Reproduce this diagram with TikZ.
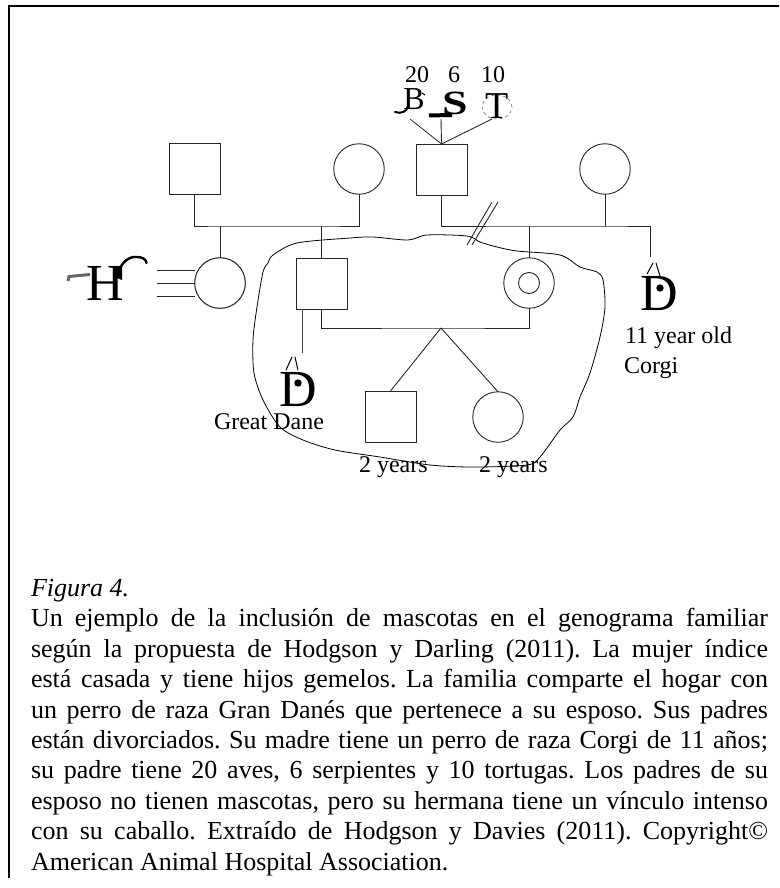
\documentclass[tikz,border=0pt]{standalone}
\usepackage{fontspec}
\setmainfont{Liberation Serif}
\newcommand{\jline}[1]{\makebox[737pt][s]{#1}}
\tikzset{
  line/.style={draw=black!85,line width=0.9pt},
  sq/.style={draw=black!85,line width=0.9pt,minimum size=51pt,inner sep=0pt,outer sep=0pt,shape=rectangle},
  ci/.style={draw=black!85,line width=0.9pt,minimum size=50.5pt,inner sep=0pt,outer sep=0pt,shape=circle},
  lab/.style={inner sep=0pt,outer sep=0pt,font=\fontsize{24}{28}\selectfont,anchor=base west},
  big/.style={inner sep=0pt,outer sep=0pt,font=\fontsize{52}{56}\selectfont,anchor=base},
  orn/.style={draw=black,line width=1pt,line cap=round}
}
\begin{document}
\begin{tikzpicture}[x=1pt,y=-1pt]
\useasboundingbox (0,0) rectangle (779,888);
\draw[line width=1.5pt] (9,878) -- (9,6) -- (779,6);
% generation 1
\node[sq] (gf) at (194.5,169) {};
\node[ci] (gm) at (359,169) {};
\node[sq] (fa) at (441.5,169.5) {};
\node[ci] (mo) at (605,169) {};
% generation 2
\node[ci] (si) at (220,283) {};
\node[sq] (hu) at (321.5,283.5) {};
\node[ci] (wi) at (529,283) {};
\node[ci,minimum size=21pt] (wii) at (529,283) {};
% children
\node[sq] (so) at (390.5,416.5) {};
\node[ci] (da) at (498,417) {};
% couple lines
\coordinate (c1) at (220,226);
\coordinate (c2) at (321.5,226);
\coordinate (c3) at (529,226);
\coordinate (c4) at (605,226);
\coordinate (c5) at (650,226);
\coordinate (c6) at (650,257);
\coordinate (tw) at (441,328);
\draw[line] (gf.south) |- (c1) -- (c2) -| (gm.south);
\draw[line] (c1) -- (si.north);
\draw[line] (c2) -- (hu.north);
\draw[line] (fa.south) |- (c3) -- (c4) -- (c5) -- (c6);
\draw[line] (c3) -- (wi.north);
\draw[line] (c4) -- (mo.south);
\draw[line] (hu.south) |- (tw) -| (wi.south);
\draw[line] (tw) -- (so.north);
\draw[line] (tw) -- (da.north);
% divorce
\coordinate (d1a) at (467,245); \coordinate (d1b) at (492,202);
\coordinate (d2a) at (472,245); \coordinate (d2b) at (498,202);
\draw[line] (d1a) -- (d1b);
\draw[line] (d2a) -- (d2b);
% husband's dog
\coordinate (hd) at (302,353);
\draw[line,draw=black!70] (hd|-hu.south) -- (hd);
% horse
\node[big] (H) at (105.5,300) {H};
\coordinate (h1) at (157,270); \coordinate (h2) at (157,283); \coordinate (h3) at (157,296);
\draw[line width=2.4pt,line cap=round] (119,272) .. controls (121,262) and (130,256) .. (137,257) .. controls (142,257) and (146,259) .. (146.5,263);
\fill (117,268) -- (122,265) -- (122,280) -- (117,278) -- cycle;
\draw[draw=black!60,line width=3pt] (68,281) -- (69,276.5) -- (90,274.5);
\draw[line] (h1) -- (si.west |- h1);
\draw[line] (h2) -- (si.west);
\draw[line] (h3) -- (si.west |- h3);
\node[ci,fill=white] (si2) at (220,283) {};
% dogs
\node[big] (D1) at (298,406) {D};
\fill (298,383) circle (3.7pt);
\draw[orn] (286,370) -- (292,357) (295,357) -- (298,370);
\node[big] (D2) at (659,310) {D};
\fill (660,288) circle (3.7pt);
\draw[orn] (647,274) -- (653,263) (656,263) -- (660,276);
% father's pets
\node[lab] (n20) at (405,83) {20};
\node[lab] (n6) at (448,83) {6};
\node[lab] (n10) at (481,83) {10};
\node[inner sep=0pt,outer sep=0pt,anchor=base,font=\fontsize{32}{36}\selectfont] (B) at (414,110) {B};
\draw[line width=2pt,line cap=round] (408,106) .. controls (407,112) and (401,114) .. (395,112);
\draw[line width=1pt] (422,93) -- (425,95);
\node[inner sep=0pt,outer sep=0pt,anchor=base,font=\bfseries\fontsize{34}{36}\selectfont,xscale=1.35] (S) at (455,114) {S};
\draw[line width=4pt] (429,115.5) -- (452,115);
\draw[draw=black!60,dashed,line width=0.6pt] (497,107) ellipse (15pt and 12pt);
\node[inner sep=0pt,outer sep=0pt,anchor=base,font=\fontsize{38}{40}\selectfont] (T) at (497,118) {T};
\coordinate (b1) at (410,119); \coordinate (b2) at (441,119); \coordinate (b3) at (492,119);
\draw[line,line width=0.8pt] (b1) -- (fa.north);
\draw[line] (b2) -- (fa.north);
\draw[line] (b3) -- (fa.north);
% labels
\node[lab] (gd) at (214,429) {Great Dane};
\node[lab] (yo) at (625,343) {11 year old};
\node[lab] (co) at (624,373) {Corgi};
\node[lab] (y1) at (359,472) {2 years};
\node[lab] (y2) at (479,472) {2 years};
% boundary
\draw[line width=0.8pt] plot[smooth cycle,tension=0.5] coordinates {
(350,238)(297,243)(273,255)(268,263)(263,272)(257,307)(253,340)(254,373)(263,400)(280,427)(303,440)(335,450)
(380,457)(430,465)(473,467)(527,465)(540,457)(560,430)(573,417)(580,397)(590,373)(600,337)(605,307)(603,280)(597,272)(580,267)(560,255)(517,251)(497,247)(480,242)(467,236)(427,235)(408,240)(373,237)};
% caption
\node[anchor=base west,inner sep=0pt,outer sep=0pt,align=left,font=\frenchspacing\fontsize{26}{30.4}\selectfont] (cap) at (31,870) {\textit{Figura 4.}\\
\jline{Un ejemplo de la inclusión de mascotas en el genograma familiar}\\
\jline{según la propuesta de Hodgson y Darling (2011). La mujer índice}\\
\jline{está casada y tiene hijos gemelos. La familia comparte el hogar con}\\
\jline{un perro de raza Gran Danés que pertenece a su esposo. Sus padres}\\
\jline{están divorciados. Su madre tiene un perro de raza Corgi de 11 años;}\\
\jline{su padre tiene 20 aves, 6 serpientes y 10 tortugas. Los padres de su}\\
\jline{esposo no tienen mascotas, pero su hermana tiene un vínculo intenso}\\
\jline{con su caballo. Extraído de Hodgson y Davies (2011). Copyright©}\\
American Animal Hospital Association.};
\end{tikzpicture}
\end{document}
